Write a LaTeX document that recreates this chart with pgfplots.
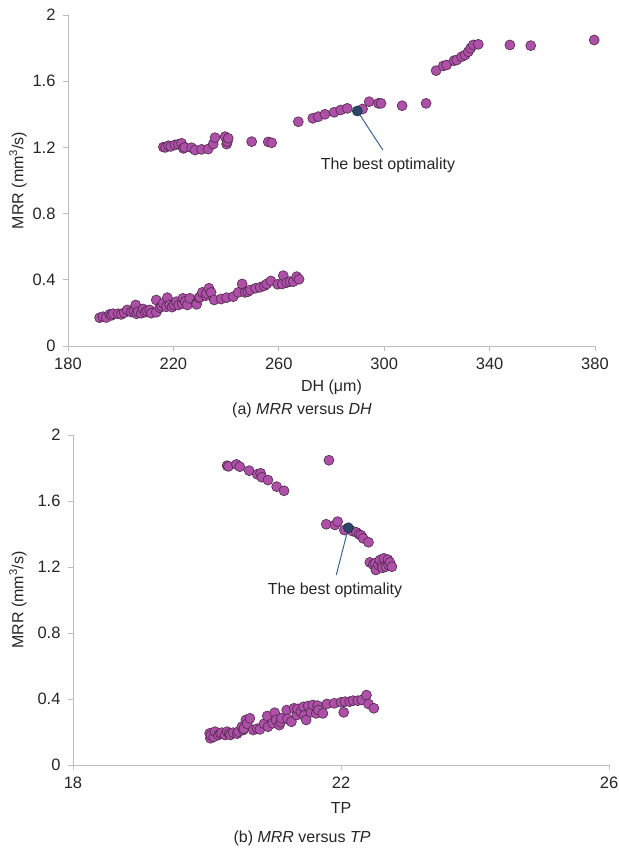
\documentclass[border=0pt]{standalone}
\usepackage{fontspec}
\setmainfont{Liberation Sans}
\usepackage{pgfplots}
\usepackage{pgfplotstable}
\pgfplotsset{compat=1.18}

\definecolor{dotfill}{HTML}{AE4FA8}
\definecolor{dotedge}{HTML}{4E2A4C}
\definecolor{bestfill}{HTML}{2B4668}
\definecolor{arrowc}{HTML}{3C6591}
\definecolor{axisgray}{HTML}{BDBDBD}
\definecolor{txt}{HTML}{262626}

% MRR against discharge current (DH), lower and upper branches
\pgfplotstableread{
DH MRR
192.0 0.171
193.3 0.177
194.5 0.172
195.8 0.191
196.5 0.185
197.1 0.195
199.0 0.195
200.2 0.191
201.3 0.201
202.5 0.218
204.0 0.205
205.0 0.211
205.7 0.248
206.0 0.195
206.6 0.207
207.8 0.198
208.5 0.224
209.3 0.204
210.0 0.212
211.0 0.218
211.6 0.198
213.5 0.204
213.5 0.278
214.8 0.231
215.5 0.240
216.1 0.258
217.3 0.237
217.7 0.292
218.6 0.248
219.5 0.235
220.2 0.248
221.1 0.268
222.0 0.248
223.3 0.258
223.6 0.288
224.5 0.270
225.3 0.248
226.2 0.288
228.7 0.258
228.8 0.252
229.7 0.292
230.0 0.294
231.0 0.324
232.3 0.304
232.5 0.318
233.5 0.349
234.3 0.324
235.5 0.278
238.1 0.284
240.2 0.292
242.7 0.298
244.6 0.324
246.1 0.375
247.2 0.324
248.2 0.328
249.1 0.338
251.2 0.349
252.9 0.355
254.5 0.364
255.4 0.375
257.0 0.393
259.6 0.373
261.3 0.375
261.7 0.425
263.0 0.383
264.2 0.389
265.5 0.389
266.8 0.419
267.7 0.403
216.2 1.202
217.0 1.200
218.1 1.210
219.0 1.206
220.6 1.215
221.9 1.219
223.1 1.225
223.8 1.194
224.3 1.200
226.9 1.198
228.2 1.184
230.7 1.188
233.2 1.190
235.1 1.220
235.8 1.259
239.6 1.265
240.2 1.220
240.5 1.235
240.8 1.255
249.7 1.235
256.0 1.233
257.3 1.228
267.4 1.355
272.9 1.376
275.0 1.386
277.5 1.400
281.0 1.412
283.5 1.426
286.0 1.436
291.8 1.432
294.3 1.476
297.8 1.466
298.8 1.466
306.8 1.452
315.9 1.466
319.7 1.664
322.4 1.692
323.7 1.698
326.5 1.724
327.5 1.728
329.4 1.748
330.7 1.758
331.9 1.778
332.8 1.799
333.8 1.819
335.7 1.823
347.7 1.819
355.6 1.815
379.7 1.849
}\dhdata

% MRR against pulse duration (TP)
\pgfplotstableread{
TP MRR
20.04 0.192
20.05 0.162
20.06 0.180
20.10 0.170
20.12 0.202
20.17 0.182
20.20 0.190
20.22 0.196
20.27 0.182
20.30 0.202
20.33 0.190
20.35 0.182
20.39 0.196
20.45 0.190
20.47 0.202
20.52 0.232
20.54 0.212
20.55 0.220
20.58 0.273
20.60 0.250
20.64 0.283
20.69 0.212
20.75 0.220
20.79 0.216
20.85 0.250
20.90 0.297
20.91 0.232
20.98 0.253
21.01 0.317
21.03 0.273
21.08 0.242
21.10 0.260
21.11 0.283
21.19 0.333
21.20 0.280
21.26 0.262
21.30 0.344
21.34 0.303
21.35 0.340
21.40 0.323
21.44 0.353
21.45 0.300
21.48 0.273
21.51 0.358
21.55 0.320
21.58 0.364
21.63 0.313
21.65 0.360
21.66 0.333
21.73 0.313
21.79 0.370
21.90 0.374
22.00 0.380
22.04 0.319
22.06 0.384
22.13 0.384
22.18 0.390
22.25 0.390
22.31 0.394
22.38 0.424
22.41 0.370
22.49 0.344
20.30 1.814
20.32 1.810
20.44 1.822
20.49 1.808
20.63 1.784
20.75 1.762
20.80 1.768
20.82 1.744
20.91 1.727
21.04 1.687
21.15 1.662
21.82 1.847
21.78 1.459
21.91 1.455
21.95 1.475
22.05 1.424
22.17 1.418
22.23 1.410
22.27 1.398
22.30 1.392
22.33 1.374
22.41 1.350
22.43 1.228
22.48 1.215
22.51 1.222
22.52 1.182
22.56 1.212
22.58 1.242
22.61 1.208
22.62 1.195
22.64 1.253
22.67 1.202
22.70 1.245
22.71 1.212
22.73 1.228
22.76 1.202
}\tpdata

\newcommand{\lblfont}{\fontsize{16bp}{19bp}\selectfont}
\newcommand{\tickfont}{\fontsize{16.5bp}{19bp}\selectfont}

\pgfplotsset{
  mrrscatter/.style={
    scale only axis,
    axis x line*=bottom, axis y line*=left,
    axis line style={axisgray, line width=0.9bp},
    tick style={axisgray, line width=0.9bp},
    tick align=outside, major tick length=5bp,
    ymin=0, ymax=2, ytick={0,0.4,0.8,1.2,1.6,2},
    /pgf/number format/assume math mode=true,
    tick label style={font=\tickfont, text=txt},
    yticklabel style={xshift=-4bp},
    xticklabel style={yshift=-3bp},
    clip=false,
  },
  dots/.style={only marks, mark=*, mark size=5bp,
    mark options={fill=dotfill, draw=dotedge, line width=0.6bp}},
  bestdot/.style={only marks, mark=*, mark size=5bp,
    mark options={fill=bestfill, draw=bestfill!70!black, line width=0.6bp}},
}

\begin{document}
\begin{tikzpicture}[x=1bp, y=1bp]
\useasboundingbox (0,0) rectangle (619,-852);

% (a) MRR versus DH
\begin{axis}[mrrscatter,
  at={(68bp,-346bp)}, anchor=south west,
  width=527bp, height=331bp,
  xmin=180, xmax=380, xtick={180,220,...,380},
  xlabel={DH (μm)},
  ylabel={MRR (mm\textsuperscript{3}/s)},
  every axis x label/.style={at={(axis description cs:0.5,-0.125)}, anchor=center, font=\lblfont, text=txt},
  every axis y label/.style={at={(axis description cs:-0.095,0.5)}, rotate=90, anchor=center, font=\lblfont, text=txt},
]
\addplot[dots] table[x=DH, y=MRR] {\dhdata};
\addplot[bestdot] coordinates {(289.8,1.420)};
\draw[arrowc, line width=1bp] (axis cs:289.8,1.420) -- (axis cs:299.5,1.184);
\node[font=\lblfont, text=txt] at (axis cs:301.4,1.094) {The best optimality};
\end{axis}
\node[font=\lblfont, text=txt] at (302,-410) {(a) \textit{MRR} versus \textit{DH}};

% (b) MRR versus TP
\begin{axis}[mrrscatter,
  at={(73bp,-765bp)}, anchor=south west,
  width=536bp, height=330bp,
  xmin=18, xmax=26, xtick={18,22,26},
  xlabel={TP},
  ylabel={MRR (mm\textsuperscript{3}/s)},
  every axis x label/.style={at={(axis description cs:0.5,-0.13)}, anchor=center, font=\lblfont, text=txt},
  every axis y label/.style={at={(axis description cs:-0.1026,0.5)}, rotate=90, anchor=center, font=\lblfont, text=txt},
]
\addplot[dots] table[x=TP, y=MRR] {\tpdata};
\addplot[bestdot] coordinates {(22.11,1.438)};
\draw[arrowc, line width=1bp] (axis cs:22.11,1.438) -- (axis cs:21.93,1.152);
\node[font=\lblfont, text=txt] at (axis cs:21.91,1.061) {The best optimality};
\end{axis}
\node[font=\lblfont, text=txt] at (302,-838) {(b) \textit{MRR} versus \textit{TP}};
\end{tikzpicture}
\end{document}
